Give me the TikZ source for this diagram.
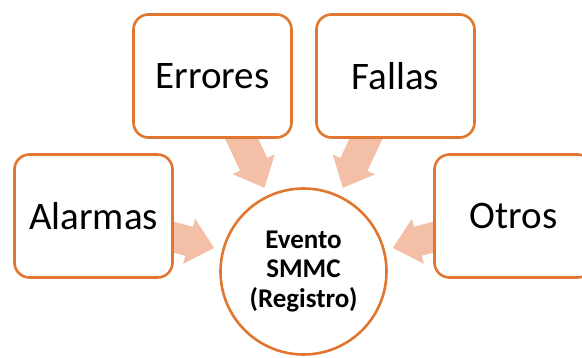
\documentclass[tikz,border=0pt]{standalone}
\usepackage{fontspec}
\setmainfont{Carlito}
\usetikzlibrary{arrows.meta,backgrounds}
\definecolor{boxline}{HTML}{E0762F}
\definecolor{arrowfill}{HTML}{F4BFA7}
\begin{document}
\begin{tikzpicture}[x=1pt,y=-1pt,
  box/.style={draw=boxline, line width=2.6pt, rounded corners=15pt, fill=white,
    minimum width=158pt, minimum height=123pt, inner sep=0pt,
    font=\fontsize{39}{46}\selectfont},
  hub/.style={circle, draw=boxline, line width=2.6pt, fill=white,
    minimum size=166pt, inner sep=0pt, align=center,
    font=\fontsize{27}{29.5}\selectfont\bfseries},
  flow/.style={draw=arrowfill, line width=30pt,
    -{Triangle[length=26pt,width=45pt]}, shorten >=8pt}]
\path[use as bounding box, clip] (0,0) rectangle (582,357);
\node[box] (al) at (93.5,216) {Alarmas};
\node[box] (er) at (212.5,76) {Errores};
\node[box] (fa) at (395.5,76) {Fallas};
\node[box] (ot) at (513.5,216) {Otros};
\node[hub] (ev) at (303.5,271.5) {Evento\\SMMC\\(Registro)};
\begin{scope}[on background layer]
  \draw[flow] (al.center) -- (ev);
  \draw[flow] (er.center) -- (ev);
  \draw[flow] (fa.center) -- (ev);
  \draw[flow] (ot.center) -- (ev);
\end{scope}
\end{tikzpicture}
\end{document}
